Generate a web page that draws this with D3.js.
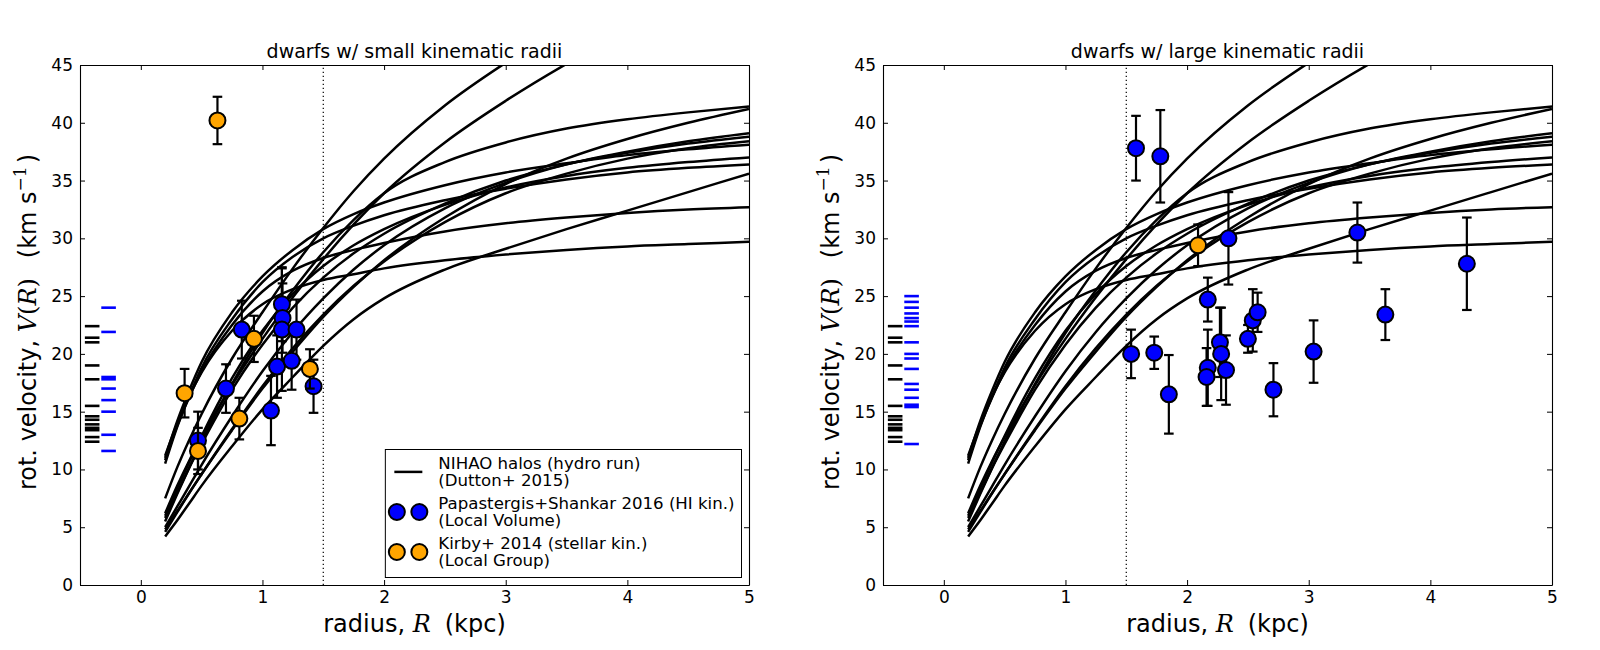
<!DOCTYPE html>
<html><head><meta charset="utf-8">
<script src="https://cdn.jsdelivr.net/npm/d3@7/dist/d3.min.js"></script>
<style>
body{margin:0;background:#fff}
svg{display:block}
text{font-family:"DejaVu Sans",sans-serif;fill:#000}
</style>
</head><body>
<svg id="chart" width="1600" height="650"></svg>
<script>
// ---------- DATA ----------
const haloRadii = [0.2,0.3,0.4,0.5,0.75,1.0,1.25,1.5,1.75,2.0,2.5,3.0,3.5,4.0,4.5,5.0];
const haloA  = [7.5,10.2,12.6,14.8,19.6,23.6,27.4,30.9,34.1,36.9,41.5,45.2,48.5,51.5,54.0,56.0];
const haloB  = [6.2,8.6,10.8,12.8,17.3,21.3,24.9,28.2,31.2,33.9,38.3,41.9,45.1,48.0,50.5,52.5];
const halo1  = [11.2,14.0,16.4,18.4,22.0,24.3,25.6,26.4,26.9,27.4,28.1,28.6,29.0,29.3,29.5,29.7];
const halo2  = [10.8,13.8,16.3,18.5,22.5,25.4,27.2,28.3,29.0,29.6,30.6,31.3,31.8,32.2,32.5,32.7];
const halo3  = [11.0,14.2,16.9,19.3,23.6,26.7,29.0,30.8,32.1,33.1,34.6,35.7,36.5,37.2,37.7,38.1];
const halo4  = [10.5,13.7,16.4,18.8,23.0,26.2,28.4,30.0,31.1,32.0,33.3,34.3,35.1,35.7,36.1,36.4];
const halo5  = [5.5,7.9,10.2,12.4,17.4,21.8,25.5,28.8,31.6,33.9,36.6,38.3,39.5,40.3,40.9,41.4];
const halo6  = [4.6,6.3,8.0,9.6,13.4,17.0,20.2,23.2,25.8,28.1,31.8,34.7,36.9,38.6,40.0,41.2];
const halo7  = [5.0,6.8,8.6,10.4,14.6,18.5,21.9,24.8,27.3,29.4,32.6,34.8,36.4,37.5,38.4,39.1];
const halo8  = [5.8,8.0,10.2,12.2,16.9,20.8,24.0,26.6,28.7,30.4,33.0,35.0,36.4,37.4,38.2,38.8];
const halo9  = [4.8,6.4,8.0,9.6,13.5,17.2,20.5,23.4,25.9,28.0,31.4,33.9,35.6,36.9,37.8,38.4];
const halo10 = [6.0,8.4,10.7,12.9,17.9,22.0,25.2,27.6,29.4,30.8,32.9,34.4,35.4,36.1,36.6,37.0];
const halo11 = [4.2,5.6,7.1,8.6,12.0,15.2,18.0,20.7,23.0,24.8,27.3,29.1,30.8,32.4,34.0,35.6];
const haloCurves = [haloA,haloB,halo1,halo2,halo3,halo4,halo5,halo6,halo7,halo8,halo9,halo10,halo11];

// left panel: small kinematic radii
const smallBlueR   = [0.47,0.70,0.83,1.07,1.12,1.16,1.165,1.16,1.24,1.28,1.42];
const smallBlueV   = [12.5,17.0,22.1,15.1,18.9,24.3,23.1,22.1,19.4,22.1,17.2];
const smallBlueErr = [2.5,2.1,2.5,3.0,2.7,3.2,3.0,5.3,2.5,2.6,2.3];
const smallOrangeR   = [0.36,0.47,0.63,0.81,0.93,1.39];
const smallOrangeV   = [16.6,11.6,40.2,14.4,21.3,18.7];
const smallOrangeErr = [2.1,2.0,2.05,1.8,2.0,1.7];

// right panel: large kinematic radii
const largeBlueR   = [1.58,1.78,1.54,1.73,1.85,2.34,2.17,2.17,2.16,2.27,2.28,2.32,2.50,2.54,2.58,2.71,3.04,3.40,3.63,4.30];
const largeBlueV   = [37.8,37.1,20.0,20.1,16.5,30.0,24.7,18.8,18.0,21.0,20.0,18.6,21.3,22.9,23.6,16.9,20.2,30.5,23.4,27.8];
const largeBlueErr = [2.8,4.0,2.1,1.4,3.4,4.0,1.9,3.3,2.5,3.0,4.0,3.0,1.2,2.7,1.7,2.3,2.7,2.6,2.2,4.0];
const largeOrangeR   = [2.09];
const largeOrangeV   = [29.4];
const largeOrangeErr = [1.8];

// short horizontal markers at left edge
const blackMarks     = [22.4,21.4,21.0,19.0,17.8,15.5,14.6,14.3,13.9,13.6,13.4,12.8,12.4];
const smallBlueMarks = [24.0,21.9,18.0,17.8,17.0,16.0,15.0,13.0,11.6];
const largeBlueMarks = [25.0,24.5,24.0,23.5,23.1,22.8,22.4,21.0,20.0,19.6,18.7,17.4,16.9,16.2,15.6,15.4,12.2];

const xTicks = [0,1,2,3,4,5];
const yTicks = [0,5,10,15,20,25,30,35,40,45];
const titles = ["dwarfs w/ small kinematic radii","dwarfs w/ large kinematic radii"];
const legendLabels = [["NIHAO halos (hydro run)","(Dutton+ 2015)"],
                      ["Papastergis+Shankar 2016 (HI kin.)","(Local Volume)"],
                      ["Kirby+ 2014 (stellar kin.)","(Local Group)"]];

// ---------- DRAW ----------
const BLUE = "#0000ff", ORANGE = "#ffa500";
const svg = d3.select("#chart");
const yTop = 65, yBottom = 585;
const panels = [
  {x0:80, x1:749, title:titles[0], bR:smallBlueR,bV:smallBlueV,bE:smallBlueErr,
   oR:smallOrangeR,oV:smallOrangeV,oE:smallOrangeErr, marks:smallBlueMarks, legend:true},
  {x0:883, x1:1552, title:titles[1], bR:largeBlueR,bV:largeBlueV,bE:largeBlueErr,
   oR:largeOrangeR,oV:largeOrangeV,oE:largeOrangeErr, marks:largeBlueMarks, legend:false}
];

panels.forEach((p, i) => {
  const x = d3.scaleLinear().domain([-0.5,5]).range([p.x0,p.x1]);
  const y = d3.scaleLinear().domain([0,45]).range([yBottom,yTop]);
  const g = svg.append("g");
  const clipId = "clip"+i;
  svg.append("clipPath").attr("id",clipId).append("rect")
    .attr("x",p.x0).attr("y",yTop).attr("width",p.x1-p.x0).attr("height",yBottom-yTop);
  const plot = g.append("g").attr("clip-path",`url(#${clipId})`);

  // halo curves
  const line = d3.line().x(d=>x(d[0])).y(d=>y(d[1])).curve(d3.curveMonotoneX);
  plot.selectAll("path.halo").data(haloCurves).join("path").attr("class","halo")
    .attr("d", c => line(c.map((v,k)=>[haloRadii[k], v])))
    .attr("fill","none").attr("stroke","#000").attr("stroke-width",2.5)
    .attr("stroke-linejoin","round");

  // dotted vertical line
  plot.append("line").attr("x1",x(1.5)).attr("x2",x(1.5)).attr("y1",y(0)).attr("y2",y(45))
    .attr("stroke","#000").attr("stroke-width",1.2).attr("stroke-dasharray","1.2,2.8");

  // marks
  plot.selectAll("line.bm").data(blackMarks).join("line").attr("class","bm")
    .attr("x1",x(-0.46)).attr("x2",x(-0.34)).attr("y1",d=>y(d)).attr("y2",d=>y(d))
    .attr("stroke","#000").attr("stroke-width",2.6);
  plot.selectAll("line.blm").data(p.marks).join("line").attr("class","blm")
    .attr("x1",x(-0.325)).attr("x2",x(-0.205)).attr("y1",d=>y(d)).attr("y2",d=>y(d))
    .attr("stroke",BLUE).attr("stroke-width",2.6);

  // error bars + points
  function series(R,V,E,color){
    const s = plot.append("g");
    const idx = d3.range(R.length);
    s.selectAll("line.eb").data(idx).join("line").attr("class","eb")
      .attr("x1",k=>x(R[k])).attr("x2",k=>x(R[k]))
      .attr("y1",k=>y(V[k]-E[k])).attr("y2",k=>y(V[k]+E[k]))
      .attr("stroke","#000").attr("stroke-width",2.2);
    ["lo","hi"].forEach(side=>{
      s.selectAll("line.cap"+side).data(idx).join("line").attr("class","cap"+side)
        .attr("x1",k=>x(R[k])-4.8).attr("x2",k=>x(R[k])+4.8)
        .attr("y1",k=>y(side==="lo"?V[k]-E[k]:V[k]+E[k]))
        .attr("y2",k=>y(side==="lo"?V[k]-E[k]:V[k]+E[k]))
        .attr("stroke","#000").attr("stroke-width",2.2);
    });
    s.selectAll("circle").data(idx).join("circle")
      .attr("cx",k=>x(R[k])).attr("cy",k=>y(V[k])).attr("r",8)
      .attr("fill",color).attr("stroke","#000").attr("stroke-width",2);
  }
  series(p.bR,p.bV,p.bE,BLUE);
  series(p.oR,p.oV,p.oE,ORANGE);

  // axes
  const fs = 17;
  const ax = g.append("g").attr("transform",`translate(0,${yBottom})`)
    .call(d3.axisBottom(x).tickValues(xTicks).tickFormat(d3.format("d")).tickSize(-5).tickSizeOuter(0).tickPadding(6));
  const axT = g.append("g").attr("transform",`translate(0,${yTop})`)
    .call(d3.axisTop(x).tickValues(xTicks).tickSize(-5).tickSizeOuter(0).tickFormat(""));
  const ay = g.append("g").attr("transform",`translate(${p.x0},0)`)
    .call(d3.axisLeft(y).tickValues(yTicks).tickFormat(d3.format("d")).tickSize(-5).tickSizeOuter(0).tickPadding(7));
  const ayR = g.append("g").attr("transform",`translate(${p.x1},0)`)
    .call(d3.axisRight(y).tickValues(yTicks).tickSize(-5).tickSizeOuter(0).tickFormat(""));
  [ax,axT,ay,ayR].forEach(a=>{
    a.selectAll("path.domain").attr("stroke","#000").attr("stroke-width",1.1);
    a.selectAll(".tick line").attr("stroke","#000").attr("stroke-width",1);
    a.selectAll("text").attr("font-size",fs).attr("font-family","DejaVu Sans").attr("fill","#000");
  });

  // title
  g.append("text").attr("x",(p.x0+p.x1)/2).attr("y",57.5).attr("text-anchor","middle")
    .attr("font-size",19).text(p.title);

  // x label
  const xl = g.append("text").attr("x",(p.x0+p.x1)/2).attr("y",632).attr("text-anchor","middle")
    .attr("font-size",24);
  xl.append("tspan").text("radius, ");
  xl.append("tspan").attr("font-family","DejaVu Serif").attr("font-style","italic").text("R");
  xl.append("tspan").attr("dx",14).text("(kpc)");

  // y label
  const ylx = p.x0 - 44;
  const yl = g.append("text").attr("transform",`translate(${ylx},${(yTop+yBottom)/2 - 3}) rotate(-90)`)
    .attr("text-anchor","middle").attr("font-size",24);
  yl.append("tspan").text("rot. velocity, ");
  yl.append("tspan").attr("font-family","DejaVu Serif").attr("font-style","italic").text("V");
  yl.append("tspan").attr("font-family","DejaVu Serif").text("(");
  yl.append("tspan").attr("font-family","DejaVu Serif").attr("font-style","italic").text("R");
  yl.append("tspan").attr("font-family","DejaVu Serif").text(")");
  yl.append("tspan").attr("dx",20).text("(km s");
  yl.append("tspan").attr("font-family","DejaVu Serif").attr("font-size",17).attr("dy",-10).text("\u22121");
  yl.append("tspan").attr("dx",3).attr("dy",10).text(")");

  // legend
  if (p.legend) {
    const lfs = 16.6;
    const lg = g.append("g");
    const box = lg.append("rect").attr("fill","#fff").attr("stroke","#000").attr("stroke-width",1);
    const texts = lg.append("g");
    const centers = [471.9, 512, 552];
    let maxW = 0;
    legendLabels.forEach((lbl, j) => {
      lbl.forEach((t, m) => {
        const tx = texts.append("text").attr("y", centers[j] - 8.5 + m*17 + 5.8)
          .attr("font-size",lfs).text(t);
        maxW = Math.max(maxW, tx.node().getComputedTextLength());
      });
    });
    const tOff = 53;
    const bw = tOff + maxW + 7;
    const bx = p.x1 - 7.5 - bw;
    const by = 449.5, bh = 585 - 7.5 - by;
    box.attr("x",bx).attr("y",by).attr("width",bw).attr("height",bh);
    texts.selectAll("text").attr("x",bx+tOff);
    lg.append("line").attr("x1",bx+9).attr("x2",bx+37).attr("y1",centers[0]).attr("y2",centers[0])
      .attr("stroke","#000").attr("stroke-width",2.5);
    [[BLUE,centers[1]],[ORANGE,centers[2]]].forEach(([c,cy])=>{
      [bx+11.5, bx+34].forEach(cx=>{
        lg.append("circle").attr("cx",cx).attr("cy",cy).attr("r",8)
          .attr("fill",c).attr("stroke","#000").attr("stroke-width",2);
      });
    });
  }
});
</script>
</body></html>
